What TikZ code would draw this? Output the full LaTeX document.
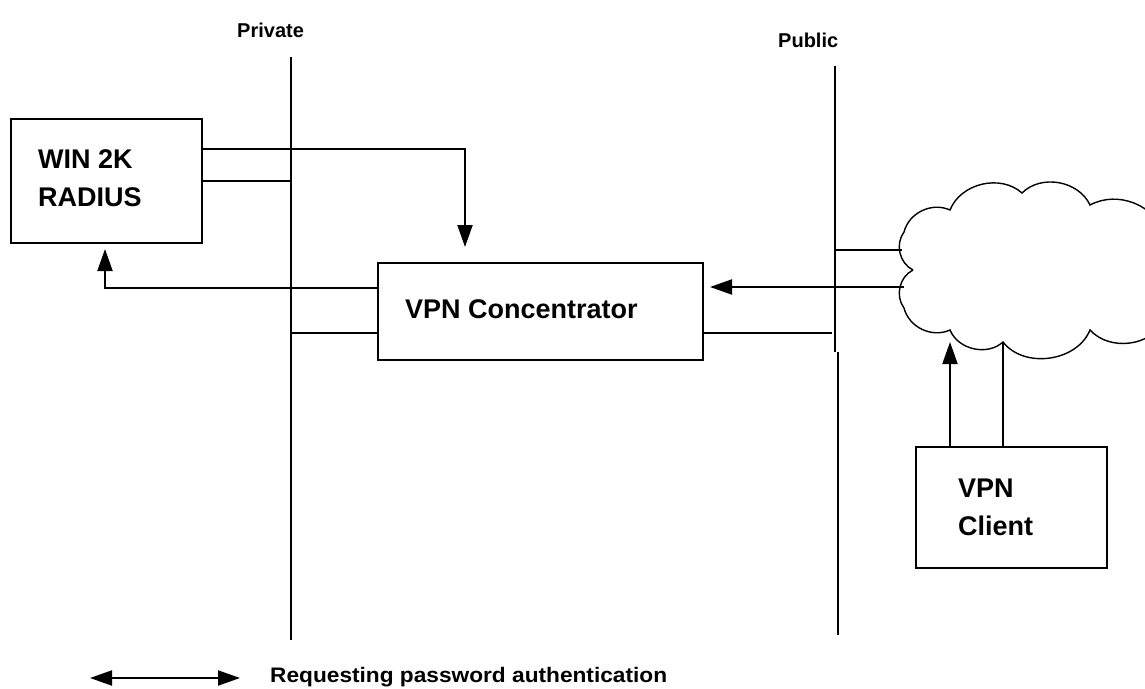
\documentclass[tikz,border=0pt]{standalone}
\usepackage{fontspec}
\setmainfont{Liberation Sans}
\usetikzlibrary{arrows.meta,calc}
\begin{document}
\begin{tikzpicture}[x=1pt,y=-1pt,
  ln/.style={line width=2pt},
  arr/.style={ln,-{Triangle[length=22pt,width=15pt]}},
  darr/.style={ln,{Triangle[length=22pt,width=15pt]}-{Triangle[length=22pt,width=15pt]}},
  boxnode/.style={draw,line width=2pt,inner sep=0pt},
  boxtxt/.style={font=\fontsize{27pt}{30pt}\selectfont\bfseries,inner sep=0pt,anchor=base west},
  lbltxt/.style={font=\fontsize{20pt}{24pt}\selectfont\bfseries,inner sep=0pt,anchor=base west},
  cloudline/.style={line width=1.4pt}
]
\useasboundingbox (0,0) rectangle (1145,688);

% boxes
\node[boxnode,minimum width=191pt,minimum height=124pt] (rad) at (106.5,181) {};
\node[boxtxt] (radt1) at (38,168) {WIN 2K};
\node[boxtxt] (radt2) at (38,206) {RADIUS};

\node[boxnode,minimum width=325pt,minimum height=97pt] (conc) at (540.5,311.5) {};
\node[boxtxt] (conct) at (405,318) {VPN Concentrator};

\node[boxnode,minimum width=191pt,minimum height=121pt] (client) at (1011.5,507.5) {};
\node[boxtxt] (clientt1) at (958,497) {VPN};
\node[boxtxt] (clientt2) at (958,535) {Client};

% labels
\node[lbltxt] (priv) at (237,37) {Private};
\node[lbltxt] (pub) at (778,47) {Public};

% network lines
\coordinate (privtop) at (291,57);
\coordinate (privbot) at (291,640);
\draw[ln] (privtop) -- (privbot);
\coordinate (pubtop) at (835,66);
\coordinate (pubmid) at (835,352);
\coordinate (pubmid2) at (838,352);
\coordinate (pubbot) at (838,635);
\draw[ln] (pubtop) -- (pubmid);
\draw[ln] (pubmid2) -- (pubbot);

% cloud
\coordinate (cA) at (913,270);
\coordinate (cB) at (904,232);
\coordinate (cC) at (950,210);
\coordinate (cD) at (1022,193);
\coordinate (cE) at (1090,205);
\coordinate (cF) at (1165,235);
\coordinate (cG) at (1165,320);
\coordinate (cH) at (1090,330);
\coordinate (cI) at (1003,342);
\coordinate (cJ) at (950,330);
\coordinate (cK) at (904,308);
\begin{scope}
\clip (0,0) rectangle (1145,688);
\draw[cloudline] (cA) to[bend left=50] (cB) to[bend left=50] (cC) to[bend left=55] (cD)
  to[bend left=55] (cE) to[bend left=50] (cF) to[bend left=50] (cG)
  to[bend left=55] (cH) to[bend left=60] (cI) to[bend left=55] (cJ)
  to[bend left=50] (cK) to[bend left=50] (cA);
\end{scope}
\coordinate (cloudL1) at (902,250);
\coordinate (cloudL2) at (904,287);
\coordinate (cloudTip) at (950,342);

% connectors
\draw[arr,shorten >=15pt] ([yshift=32pt]rad.east) -| (conc.north -| 465,0);
\draw[ln] (rad.east) -- (rad.east -| privtop);
\draw[arr,shorten >=5pt] ([yshift=23.5pt]conc.west) -| ([xshift=-1.5pt]rad.south);
\draw[ln] ([yshift=-21.5pt]conc.west) -- ([yshift=-21.5pt]conc.west -| privtop);
\draw[ln] ([yshift=-21.5pt]conc.east) -- ([yshift=-21.5pt,xshift=-3pt]conc.east -| pubtop);
\draw[arr,shorten >=6pt] (cloudL2) -- (cloudL2 -| conc.east);
\draw[ln] (cloudL1 -| pubtop) -- (cloudL1);
\draw[arr] ([xshift=-61.5pt]client.north) -- (cloudTip);
\draw[ln] ([xshift=-8.5pt]client.north) -- (cI);

% legend
\coordinate (lg1) at (90,678);
\coordinate (lg2) at (240,678);
\draw[darr] (lg1) -- (lg2);
\node[lbltxt,font=\fontsize{21pt}{24pt}\selectfont\bfseries] (legt) at (270,682) {\scalebox{1.08}[1]{Requesting password authentication}};
\end{tikzpicture}
\end{document}
